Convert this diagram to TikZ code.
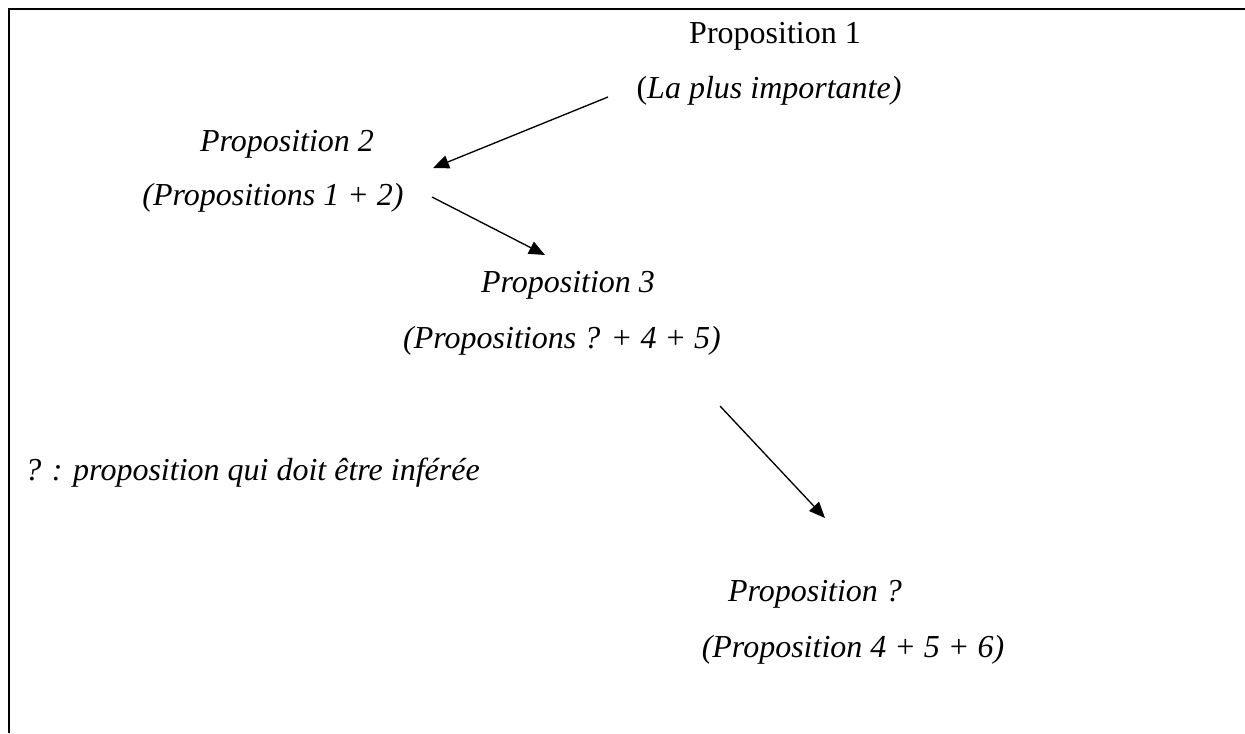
\documentclass[tikz,border=0pt]{standalone}
\usepackage{fontspec}
\setmainfont{Liberation Serif}
\usetikzlibrary{arrows.meta}
\begin{document}
\begin{tikzpicture}[x=0.75pt,y=-0.75pt,
  lbl/.style={inner sep=0pt, anchor=base, font=\fontsize{24}{28}\selectfont},
  conn/.style={line width=1pt, -{Triangle[length=12pt,width=10pt]}}]
\useasboundingbox (0,0) rectangle (1245,733);
\draw[line width=2.2pt] (9,733) -- (9,9) -- (1245,9);
\node[lbl] (p1) at (775,43) {Proposition 1};
\node[lbl] (p1b) at (769,98) {(\textit{La plus importante)}};
\node[lbl] (p2) at (287,151) {\textit{Proposition 2}};
\node[lbl] (p2b) at (273,205) {\textit{(Propositions 1 + 2)}};
\node[lbl] (p3) at (568,292) {\textit{Proposition 3}};
\node[lbl] (p3b) at (562,348) {\textit{(Propositions ? + 4 + 5)}};
\node[lbl, anchor=base west] (note) at (25,480) {\textit{? : proposition qui doit être inférée}};
\node[lbl] (p4) at (815,601) {\textit{Proposition ?}};
\node[lbl] (p4b) at (853,657) {\textit{(Proposition 4 + 5 + 6)}};
\coordinate (a1s) at (608,97);
\coordinate (a1e) at (433,168);
\coordinate (a2s) at (432,197);
\coordinate (a2e) at (545,255);
\coordinate (a3s) at (720,406);
\coordinate (a3e) at (825,518);
\draw[conn] (a1s) -- (a1e);
\draw[conn] (a2s) -- (a2e);
\draw[conn] (a3s) -- (a3e);
\end{tikzpicture}
\end{document}
